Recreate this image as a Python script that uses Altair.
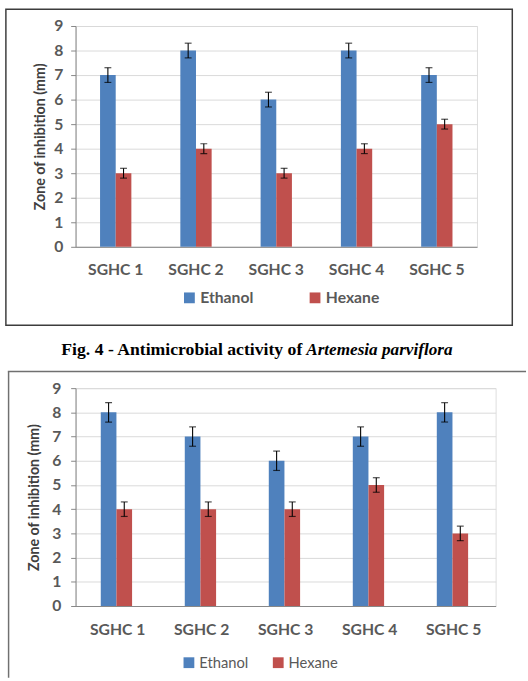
import altair as alt
import pandas as pd

categories = ["SGHC 1", "SGHC 2", "SGHC 3", "SGHC 4", "SGHC 5"]
series = ["Ethanol", "Hexane"]
colors = ["#4F81BD", "#C0504D"]

top_ethanol = [7, 8, 6, 8, 7]
top_hexane = [3, 4, 3, 4, 5]
top_ethanol_err = [0.3, 0.3, 0.3, 0.3, 0.3]
top_hexane_err = [0.2, 0.2, 0.2, 0.2, 0.2]

bot_ethanol = [8, 7, 6, 7, 8]
bot_hexane = [4, 4, 4, 5, 3]
bot_ethanol_err = [0.4, 0.4, 0.4, 0.4, 0.4]
bot_hexane_err = [0.3, 0.3, 0.3, 0.3, 0.3]

y_ticks = [0, 1, 2, 3, 4, 5, 6, 7, 8, 9]
y_title = "Zone of inhibition (mm)"
caption_roman = "Fig. 4 - Antimicrobial activity of"
caption_italic = "Artemesia parviflora"

FONT = "Lato"
LABEL = "#595959"
AXISLINE = "#868686"


def make_df(eth, hex_, eth_e, hex_e):
    rows = []
    for i, c in enumerate(categories):
        for s, v, e in ((series[0], eth[i], eth_e[i]), (series[1], hex_[i], hex_e[i])):
            rows.append({"cat": c, "series": s, "value": v, "lo": v - e, "hi": v + e})
    return pd.DataFrame(rows)


def panel(df, width, height, pinner, legend_x, legend_y, legend_bold, col_pad,
          x_label_pad, y_label_pad, title_pad, extra_layers):
    base = alt.Chart(df)
    x = alt.X("cat:N", sort=categories,
              scale=alt.Scale(paddingInner=pinner, paddingOuter=pinner / 2),
              axis=alt.Axis(title=None, labelAngle=0, labelFont=FONT, labelFontWeight="bold",
                            labelFontSize=16, labelColor=LABEL, ticks=False,
                            domainColor=AXISLINE, domainWidth=1, labelPadding=x_label_pad,
                            grid=False))
    xo = alt.XOffset("series:N", sort=series, scale=alt.Scale(paddingInner=0, paddingOuter=0))
    yaxis = alt.Axis(values=y_ticks, title=y_title, titleFont=FONT, titleFontWeight="bold",
                     titleFontSize=14.5, titleColor="#404040", titlePadding=title_pad,
                     labelFont=FONT, labelFontWeight="bold", labelFontSize=16,
                     labelColor=LABEL, labelPadding=y_label_pad, tickSize=5,
                     tickColor=AXISLINE, domainColor=AXISLINE, grid=True,
                     gridColor="#D9D9D9", gridWidth=1)
    yscale = alt.Scale(domain=[0, 9], nice=False)

    def ye(f):
        return alt.Y(f"{f}:Q", scale=yscale, axis=yaxis)

    weight = "bold" if legend_bold else "normal"
    leg = alt.Legend(title=None, orient="none", legendX=legend_x, legendY=legend_y,
                     direction="horizontal", symbolType="square", symbolSize=121,
                     symbolStrokeWidth=0, labelFont=FONT,
                     labelFontSize=16 if legend_bold else 15, labelFontWeight=weight,
                     labelColor=LABEL, columnPadding=col_pad, labelOffset=3, padding=0)

    bars = base.mark_bar().encode(
        x=x, xOffset=xo, y=ye("value"),
        color=alt.Color("series:N", scale=alt.Scale(domain=series, range=colors),
                        legend=leg))
    rules = base.mark_rule(color="black", strokeWidth=1.1).encode(
        x=x, xOffset=xo, y=ye("lo"), y2="hi:Q")
    cap_hi = base.mark_tick(color="black", thickness=1.2, size=7).encode(
        x=x, xOffset=xo, y=ye("hi"))
    cap_lo = base.mark_tick(color="black", thickness=1.2, size=7).encode(
        x=x, xOffset=xo, y=ye("lo"))
    return alt.layer(*extra_layers, bars, rules, cap_hi, cap_lo).properties(
        width=width, height=height)


one = pd.DataFrame({"k": [0]})
cap_df = pd.DataFrame({"roman": [caption_roman], "italic": [caption_italic]})

# top panel: plot origin at page (76, 19)
top_anchor = alt.Chart(one).mark_rect(opacity=0).encode(
    x=alt.value(-76), x2=alt.value(452), y=alt.value(-19), y2=alt.value(349))
top_frame = alt.Chart(one).mark_rect(fill="white", fillOpacity=0, stroke="#3c3c3c",
                                     strokeWidth=1.5).encode(
    x=alt.value(-71), x2=alt.value(445), y=alt.value(-17), y2=alt.value(305))
cap1 = alt.Chart(cap_df).mark_text(font="Liberation Serif", fontWeight="bold", fontSize=18,
                                   align="right", baseline="alphabetic", color="black").encode(
    text="roman:N", x=alt.value(231), y=alt.value(335))
cap2 = alt.Chart(cap_df).mark_text(font="Liberation Serif", fontWeight="bold", fontStyle="italic",
                                   fontSize=17.5, align="left", baseline="alphabetic",
                                   color="black").encode(
    text="italic:N", x=alt.value(235), y=alt.value(335))

top = panel(make_df(top_ethanol, top_hexane, top_ethanol_err, top_hexane_err),
            409, 225, 0.61, 108, 269, True, 54, 15, 8, 6,
            [top_anchor, top_frame, cap1, cap2])

# bottom panel: plot origin at page (69, 386)
bot_top_line = alt.Chart(one).mark_rule(color="#707070", strokeWidth=1.5).encode(
    x=alt.value(-69), x2=alt.value(459), y=alt.value(-17))
bot_left_line = alt.Chart(one).mark_rule(color="#707070", strokeWidth=1.5).encode(
    x=alt.value(-68.25), y=alt.value(-17), y2=alt.value(295))

bottom = panel(make_df(bot_ethanol, bot_hexane, bot_ethanol_err, bot_hexane_err),
               428, 222, 0.60, 108, 272, False, 23, 16, 10, 10,
               [bot_top_line, bot_left_line])

chart = alt.vconcat(top, bottom, spacing=0).properties(padding=0).resolve_scale(
    color="independent").resolve_legend(color="independent").configure_view(
    stroke=None).configure(background="white")

chart.save("out.html", embed_options={"renderer": "svg", "actions": False})
